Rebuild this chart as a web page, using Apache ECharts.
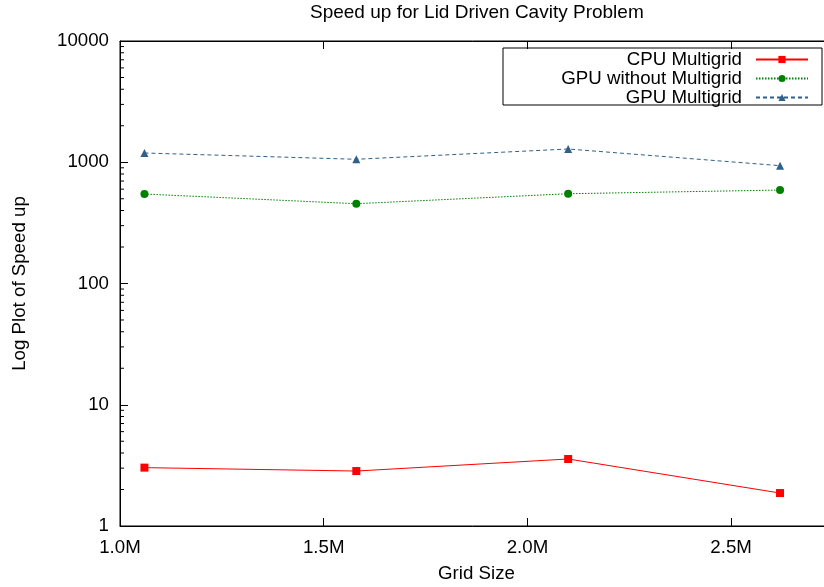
<!DOCTYPE html>
<html>
<head>
<meta charset="utf-8">
<script src="https://cdn.jsdelivr.net/npm/echarts@6/dist/echarts.min.js"></script>
<style>html,body{margin:0;padding:0;background:#fff}#c{width:824px;height:587px}</style>
</head>
<body>
<div id="c"></div>
<script>
var gridSize = [1060000, 1580000, 2100000, 2620000];
var cpuMultigrid = [3.03, 2.84, 3.57, 1.87];
var gpuWithoutMultigrid = [547, 455, 550, 590];
var gpuMultigrid = [1192, 1058, 1286, 937];
var seriesNames = ['CPU Multigrid', 'GPU without Multigrid', 'GPU Multigrid'];
var yMinorTicks = [2,3,4,5,6,7,8,9,20,30,40,50,60,70,80,90,200,300,400,500,600,700,800,900,2000,3000,4000,5000,6000,7000,8000,9000];
var xMin = 1000000, xMax = 2750000, xStep = 500000;

function pairs(ys){ return gridSize.map(function(x,i){ return [x, ys[i]]; }); }

var FONT = 'Liberation Sans';
var FS = 18.7;
var chart = echarts.init(document.getElementById('c'), null, {renderer:'canvas'});

function legendFor(name, top){
  return {
    data: [name], right: 15, top: top, orient: 'vertical', align: 'right',
    padding: 0, itemWidth: 52, itemHeight: 9, selectedMode: false,
    textStyle: {fontFamily: FONT, fontSize: FS, color: '#000', padding: [0, 9, 0, 0]}
  };
}

chart.setOption({
  animation: false,
  backgroundColor: '#fff',
  title: {
    text: 'Speed up for Lid Driven Cavity Problem', left: 310, top: 3, padding: 0,
    textStyle: {fontFamily: FONT, fontSize: 19, fontWeight: 'normal', color: '#000'}
  },
  legend: [legendFor(seriesNames[0], 50), legendFor(seriesNames[1], 69), legendFor(seriesNames[2], 88)],
  graphic: [{
    type: 'rect', shape: {x: 503, y: 48, width: 319, height: 57},
    style: {fill: 'none', stroke: '#000', lineWidth: 1}, silent: true, z: 10
  }],
  grid: {left: 120, top: 41, width: 713, height: 485, outerBoundsMode: 'none', containLabel: false,
    show: true, borderColor: '#000', borderWidth: 1},
  xAxis: [{
    type: 'value', min: xMin, max: xMax, interval: xStep,
    name: 'Grid Size', nameLocation: 'middle', nameGap: 38,
    nameTextStyle: {fontFamily: FONT, fontSize: FS, color: '#000'},
    axisLine: {lineStyle: {color: '#000', width: 1}},
    axisTick: {inside: true, length: 8, lineStyle: {color: '#000'}},
    axisLabel: {margin: 12, fontFamily: FONT, fontSize: FS, color: '#000', showMaxLabel: false,
      formatter: function(v){ return (v/1e6).toFixed(1) + 'M'; }},
    splitLine: {show: false}
  }, {
    type: 'value', position: 'top', min: xMin, max: xMax, interval: xStep,
    axisLine: {lineStyle: {color: '#000', width: 1}},
    axisTick: {inside: true, length: 8, lineStyle: {color: '#000'}},
    axisLabel: {show: false}, splitLine: {show: false}
  }],
  yAxis: {
    type: 'log', logBase: 10, min: 1, max: 10000,
    name: 'Log Plot of Speed up', nameLocation: 'middle', nameGap: 91,
    nameTextStyle: {fontFamily: FONT, fontSize: FS, color: '#000'},
    axisLine: {show: true, lineStyle: {color: '#000', width: 1}},
    axisTick: {inside: true, length: 8, lineStyle: {color: '#000'}},
    axisLabel: {margin: 11, fontFamily: FONT, fontSize: FS, color: '#000',
      formatter: function(v){ return String(Math.round(v)); }},
    splitLine: {show: false}, minorTick: {show: false}
  },
  series: [{
    name: seriesNames[0], type: 'line', data: pairs(cpuMultigrid),
    symbol: 'rect', symbolSize: 8, color: '#ff0000',
    lineStyle: {color: '#ff0000', width: 1, type: 'solid'},
    itemStyle: {color: '#ff0000'}
  }, {
    name: seriesNames[1], type: 'line', data: pairs(gpuWithoutMultigrid),
    symbol: 'circle', symbolSize: 8, color: '#008000',
    lineStyle: {color: '#008000', width: 1, type: [1.5, 1.5]},
    itemStyle: {color: '#008000'}
  }, {
    name: seriesNames[2], type: 'line', data: pairs(gpuMultigrid),
    symbol: 'triangle', symbolSize: 8, color: '#30608a',
    lineStyle: {color: '#30608a', width: 1, type: [4, 3]},
    itemStyle: {color: '#30608a'}
  }, {
    type: 'custom', silent: true, data: yMinorTicks, z: 5,
    renderItem: function(params, api){
      var p = api.coord([xMin, api.value(0)]);
      return {type: 'line', shape: {x1: p[0], y1: p[1], x2: p[0] + 4, y2: p[1]},
        style: {stroke: '#000', lineWidth: 1}};
    },
    encode: {y: 0}
  }]
});
</script>
</body>
</html>
